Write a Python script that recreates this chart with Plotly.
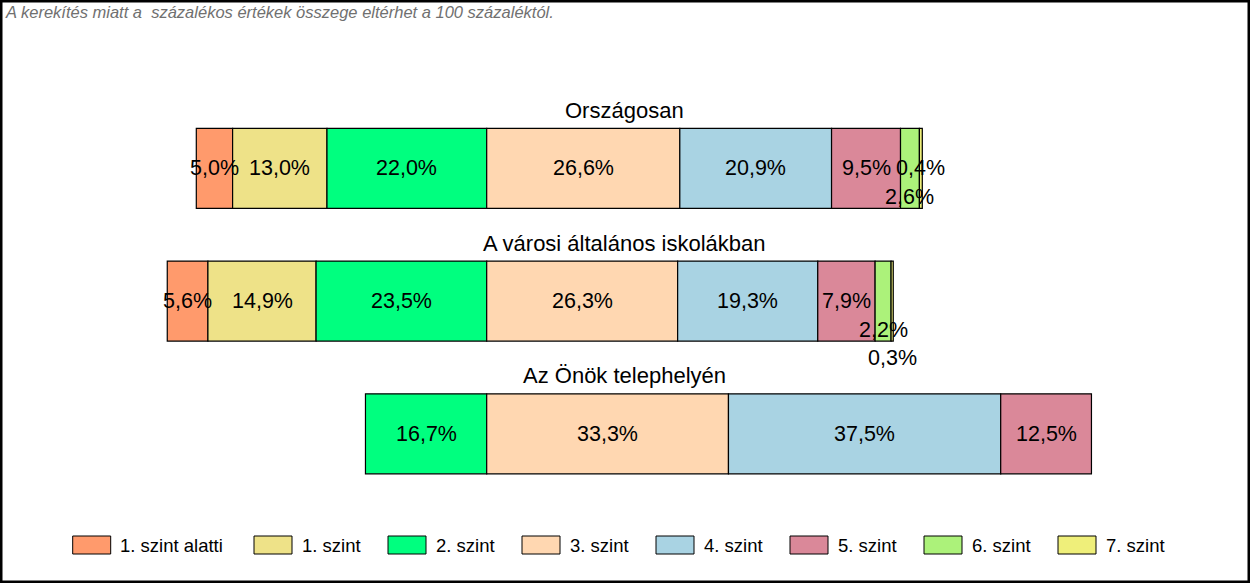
import plotly.graph_objects as go

# ---- data ----
groups = ["Országosan", "A városi általános iskolákban", "Az Önök telephelyén"]
levels = ["1. szint alatti", "1. szint", "2. szint", "3. szint", "4. szint",
          "5. szint", "6. szint", "7. szint"]
orszagos = [5.0, 13.0, 22.0, 26.6, 20.9, 9.5, 2.6, 0.4]
varosi = [5.6, 14.9, 23.5, 26.3, 19.3, 7.9, 2.2, 0.3]
telephely = [0.0, 0.0, 16.7, 33.3, 37.5, 12.5, 0.0, 0.0]
note = "A kerekítés miatt a  százalékos értékek összege eltérhet a 100 százaléktól."

# ---- styles ----
colors = ["#FF9A6C", "#EEE288", "#00FF7F", "#FFD7B1", "#A9D3E3",
          "#DA8899", "#ACF27A", "#EFEF7A"]
FONT = "Arial, Liberation Sans, sans-serif"
W, H = 1250, 583
px_per_pct = 7.26
zero_px = 486.7
row_px = [168.3, 300.7, 433.8]
row_step = 132.75
bar_h = 80
n_left = 3  # levels drawn left of zero (below, 1., 2.)
# label vertical offsets (in label rows) for crowded small segments
label_shift = {(0, 6): 1, (1, 6): 1, (1, 7): 2}

rows = [orszagos, varosi, telephely]

# bases: left part extends leftwards from zero, right part rightwards
bases = []
for vals in rows:
    b = []
    for i in range(len(levels)):
        if i < n_left:
            b.append(-sum(vals[i:n_left]))
        else:
            b.append(sum(vals[n_left:i]))
    bases.append(b)

fig = go.Figure()
for i, lev in enumerate(levels):
    xs, ys, bs = [], [], []
    for r, vals in enumerate(rows):
        if vals[i] > 0:
            xs.append(vals[i])
            ys.append(r)
            bs.append(bases[r][i])
    fig.add_trace(go.Bar(
        orientation="h", x=xs, y=ys, base=bs, name=lev,
        width=bar_h / row_step,
        marker=dict(color=colors[i], line=dict(color="black", width=1.2)),
        showlegend=False, hoverinfo="skip",
    ))

annotations = []
for r, vals in enumerate(rows):
    for i, v in enumerate(vals):
        if v <= 0:
            continue
        annotations.append(dict(
            x=bases[r][i] + v / 2, y=r, xref="x", yref="y",
            text=f"{v:.1f}%".replace(".", ","), showarrow=False,
            font=dict(family=FONT, size=21.5, color="black"),
            xanchor="center", yanchor="middle",
            yshift=-28.5 * label_shift.get((r, i), 0),
        ))
    annotations.append(dict(
        x=0.4995, y=r, xref="paper", yref="y", text=groups[r], showarrow=False,
        font=dict(family=FONT, size=22, color="black"),
        xanchor="center", yanchor="middle", yshift=bar_h / 2 + 18,
    ))

annotations.append(dict(
    x=3 / W, y=1, xref="paper", yref="paper", text=f"<i>{note}</i>",
    showarrow=False, xanchor="left", yanchor="top", yshift=-0.5,
    font=dict(family=FONT, size=16.5, color="#707070"),
))

# custom legend
shapes = []
leg_start = 72.7
leg_widths = [181.3] + [134.0] * (len(levels) - 1)
leg_y = 545
x = leg_start
for i, lev in enumerate(levels):
    shapes.append(dict(
        type="rect", xref="paper", yref="paper",
        x0=x / W, x1=(x + 38) / W, y0=1 - (leg_y + 9) / H, y1=1 - (leg_y - 9) / H,
        fillcolor=colors[i], line=dict(color="black", width=1),
    ))
    annotations.append(dict(
        x=(x + 45.5) / W, y=1 - leg_y / H, xref="paper", yref="paper",
        text=lev, showarrow=False, xanchor="left", yanchor="middle",
        font=dict(family=FONT, size=18.5, color="black"),
    ))
    x += leg_widths[i]

# outer frame
shapes.append(dict(type="rect", xref="paper", yref="paper", x0=0, x1=1, y0=0, y1=1,
                   line=dict(color="black", width=5), fillcolor="rgba(0,0,0,0)"))

fig.update_layout(
    width=W, height=H, margin=dict(l=0, r=0, t=0, b=0, pad=0),
    paper_bgcolor="white", plot_bgcolor="white",
    barmode="overlay",
    xaxis=dict(visible=False, range=[-zero_px / px_per_pct, (W - zero_px) / px_per_pct],
               fixedrange=True),
    yaxis=dict(visible=False,
               range=[(H - row_px[0]) / row_step, -row_px[0] / row_step],
               fixedrange=True),
    annotations=annotations, shapes=shapes, showlegend=False,
)

fig.write_html("out.html")
